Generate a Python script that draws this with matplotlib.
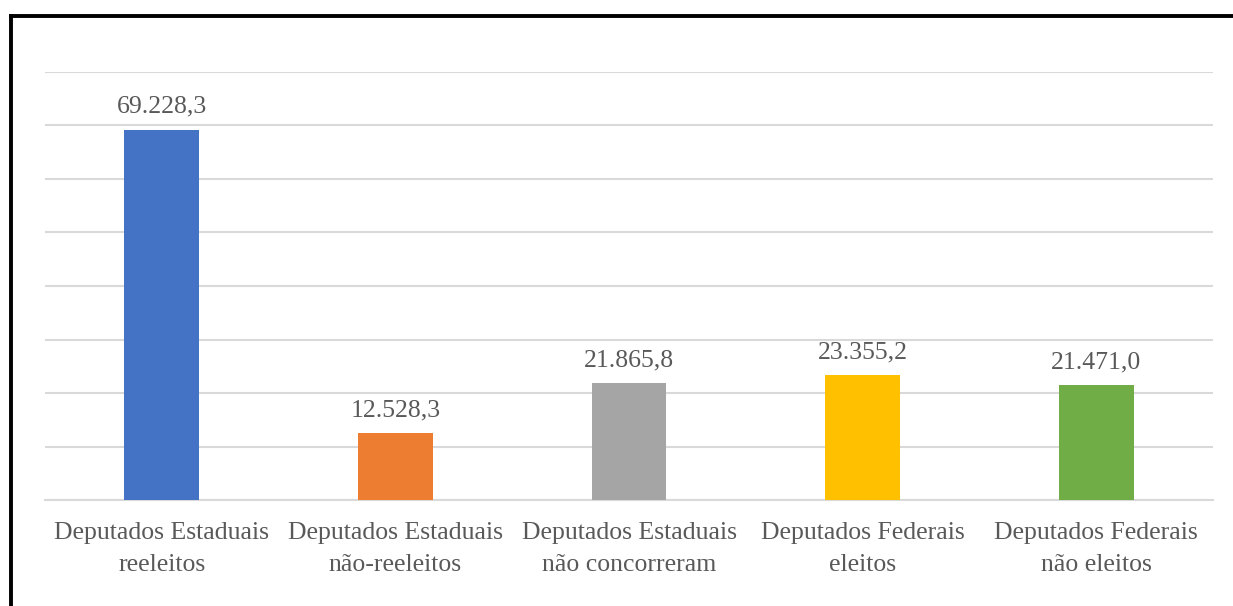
import matplotlib
matplotlib.use("Agg")
import matplotlib.pyplot as plt
from matplotlib.lines import Line2D

categorias = ["Deputados Estaduais\nreeleitos", "Deputados Estaduais\nnão-reeleitos",
              "Deputados Estaduais\nnão concorreram", "Deputados Federais\neleitos",
              "Deputados Federais\nnão eleitos"]
valores = [69228.3, 12528.3, 21865.8, 23355.2, 21471.0]
cores = ["#4472C4", "#ED7D31", "#A5A5A5", "#FFC000", "#70AD47"]

def fmt_br(v):
    s = "{:,.1f}".format(v)
    return s.replace(",", "X").replace(".", ",").replace("X", ".")

plt.rcParams['font.family'] = ['Liberation Serif', 'DejaVu Serif']
texto = "#595959"

fig = plt.figure(figsize=(12.33, 6.06), dpi=100)
ax = fig.add_axes([45/1233, 106/606, 1168/1233, 428/606])

x = range(len(valores))
ax.bar(x, valores, width=0.32, color=cores, zorder=3)
for i, v in enumerate(valores):
    ax.text(i, v + 2200, fmt_br(v), ha="center", va="bottom", fontsize=18.5, color=texto)

ax.set_xlim(-0.5, len(valores) - 0.5)
ax.set_ylim(0, 80000)
ax.set_yticks(range(0, 80001, 10000))
ax.yaxis.grid(True, color="#D9D9D9", linewidth=1.5, zorder=0)
ax.tick_params(axis="y", left=False, labelleft=False)
ax.tick_params(axis="x", bottom=False, pad=12)
ax.set_xticks(list(x))
ax.set_xticklabels(categorias, fontsize=18.5, color=texto, linespacing=1.6)
for s in ["top", "right", "left"]:
    ax.spines[s].set_visible(False)
ax.spines["bottom"].set_color("#D9D9D9")
ax.spines["bottom"].set_linewidth(1.5)

# moldura preta (esquerda e topo)
fig.add_artist(Line2D([11/1233, 11/1233], [0, 1 - 16/606], transform=fig.transFigure, color="black", linewidth=2.8))
fig.add_artist(Line2D([11/1233, 1], [1 - 16/606, 1 - 16/606], transform=fig.transFigure, color="black", linewidth=2.8))

fig.savefig("out.png", dpi=100)
